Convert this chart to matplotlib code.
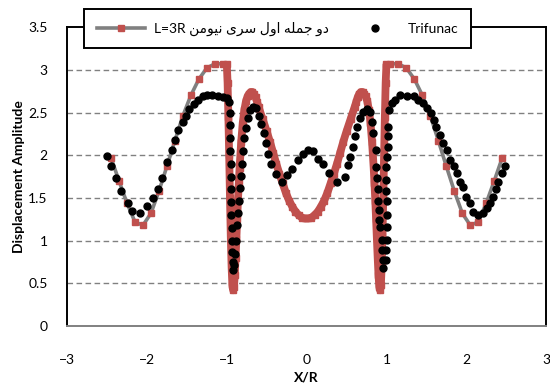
import matplotlib
matplotlib.use('Agg')
import matplotlib.pyplot as plt
import numpy as np

# font setup (Calibri-like look)
plt.rcParams['font.family'] = ['Lato', 'DejaVu Sans']
plt.rcParams['font.size'] = 10

# Neumann series (first two terms), L=3R
x_neu = [-2.45, -2.35, -2.25, -2.15, -2.05, -1.95, -1.85, -1.75, -1.65, -1.55,
         -1.45, -1.35, -1.25, -1.15, -1.05,
         -1.00, -0.99, -0.98, -0.97, -0.96, -0.95, -0.94, -0.93, -0.92, -0.91,
         -0.90, -0.89, -0.88, -0.87, -0.86, -0.85, -0.84, -0.82, -0.80, -0.78,
         -0.76, -0.74, -0.72, -0.70, -0.68, -0.66, -0.64, -0.62, -0.60, -0.55,
         -0.50, -0.46, -0.42, -0.38, -0.34, -0.30, -0.26, -0.22, -0.18, -0.14,
         -0.10, -0.06, -0.02,
         0.02, 0.06, 0.10, 0.14, 0.18, 0.22, 0.26, 0.30, 0.34, 0.38,
         0.42, 0.46, 0.50, 0.55, 0.60, 0.62, 0.64, 0.66, 0.68, 0.70,
         0.72, 0.74, 0.76, 0.78, 0.80, 0.82, 0.84, 0.85, 0.86, 0.87,
         0.88, 0.89, 0.90, 0.91, 0.92, 0.93, 0.94, 0.95, 0.96, 0.97,
         0.98, 0.99, 1.00,
         1.05, 1.15, 1.25, 1.35, 1.45, 1.55, 1.65, 1.75, 1.85, 1.95,
         2.05, 2.15, 2.25, 2.35, 2.45]
y_neu = [1.97, 1.70, 1.44, 1.22, 1.18, 1.32, 1.58, 1.87, 2.17, 2.46,
         2.70, 2.89, 3.02, 3.07, 3.07,
         3.07, 2.85, 2.45, 2.00, 1.50, 1.05, 0.70, 0.48, 0.42, 0.46,
         0.60, 0.80, 1.02, 1.25, 1.47, 1.67, 1.85, 2.15, 2.38, 2.53,
         2.63, 2.69, 2.72, 2.74, 2.74, 2.72, 2.68, 2.62, 2.56, 2.42,
         2.28, 2.16, 2.03, 1.90, 1.78, 1.67, 1.56, 1.47, 1.40, 1.34,
         1.30, 1.27, 1.26,
         1.26, 1.27, 1.30, 1.34, 1.40, 1.47, 1.56, 1.67, 1.78, 1.90,
         2.03, 2.16, 2.28, 2.42, 2.56, 2.62, 2.68, 2.72, 2.74, 2.74,
         2.72, 2.69, 2.63, 2.53, 2.38, 2.15, 1.85, 1.67, 1.47, 1.25,
         1.02, 0.80, 0.60, 0.46, 0.42, 0.48, 0.70, 1.05, 1.50, 2.00,
         2.45, 2.85, 3.07,
         3.07, 3.07, 3.02, 2.89, 2.70, 2.46, 2.17, 1.87, 1.58, 1.32,
         1.18, 1.22, 1.44, 1.70, 1.97]

# Trifunac solution
x_tri = [-2.50, -2.45, -2.39, -2.32, -2.24, -2.19, -2.09, -2.00, -1.93, -1.86,
         -1.81, -1.75, -1.69, -1.65, -1.61, -1.55, -1.51, -1.47, -1.41, -1.36,
         -1.30, -1.25, -1.18, -1.11, -1.05, -1.00,
         -0.970, -0.965, -0.960, -0.958, -0.955, -0.953, -0.950, -0.948, -0.945, -0.943,
         -0.940, -0.937, -0.933, -0.928, -0.920,
         -0.905, -0.895, -0.885, -0.870, -0.860, -0.850, -0.835, -0.820, -0.810, -0.800,
         -0.780, -0.760, -0.740, -0.710, -0.670, -0.630, -0.600, -0.570, -0.540, -0.510,
         -0.480, -0.440, -0.380, -0.310, -0.248, -0.185, -0.102, -0.040,
         0.023, 0.085, 0.148, 0.210, 0.285, 0.378, 0.480, 0.520, 0.545, 0.580,
         0.607, 0.636, 0.670, 0.710, 0.760, 0.796, 0.817, 0.837, 0.867, 0.871,
         0.880, 0.892, 0.900, 0.902, 0.909, 0.920, 0.940, 0.942, 0.954, 0.960,
         0.995, 0.996, 1.004, 1.005, 1.004, 1.003, 1.000, 0.998, 1.000, 1.010,
         1.020, 1.022, 1.024, 1.037, 1.067, 1.108, 1.170, 1.255, 1.340, 1.400,
         1.456, 1.506, 1.556, 1.590, 1.620, 1.665, 1.706, 1.756, 1.800, 1.840,
         1.880, 1.920, 1.956, 1.998, 2.050, 2.090, 2.150, 2.215, 2.265, 2.300,
         2.340, 2.375, 2.400, 2.445, 2.490]
y_tri = [1.99, 1.87, 1.73, 1.58, 1.44, 1.35, 1.32, 1.41, 1.50, 1.61,
         1.73, 1.92, 2.06, 2.18, 2.29, 2.39, 2.46, 2.54, 2.60, 2.65,
         2.69, 2.71, 2.70, 2.69, 2.68, 2.67,
         2.62, 2.50, 2.35, 2.20, 2.05, 1.90, 1.75, 1.60, 1.45, 1.30,
         1.15, 1.00, 0.87, 0.75, 0.66,
         0.72, 0.85, 1.00, 1.18, 1.32, 1.47, 1.62, 1.76, 1.90, 2.05,
         2.20, 2.32, 2.44, 2.53, 2.57, 2.55, 2.46, 2.36, 2.26, 2.14,
         2.02, 1.90, 1.78, 1.69, 1.77, 1.84, 1.94, 2.02,
         2.06, 2.05, 1.96, 1.90, 1.79, 1.69, 1.75, 1.88, 1.98, 2.10,
         2.22, 2.33, 2.43, 2.51, 2.54, 2.51, 2.39, 2.26, 2.06, 1.86,
         1.73, 1.61, 1.47, 1.36, 1.24, 1.16, 1.01, 0.89, 0.77, 0.68,
         0.77, 0.89, 1.01, 1.16, 1.30, 1.47, 1.58, 1.71, 1.86, 1.98,
         2.10, 2.22, 2.33, 2.53, 2.61, 2.65, 2.70, 2.69, 2.69, 2.65,
         2.61, 2.55, 2.49, 2.41, 2.33, 2.24, 2.14, 2.06, 1.94, 1.87,
         1.79, 1.69, 1.63, 1.51, 1.44, 1.34, 1.30, 1.32, 1.38, 1.44,
         1.51, 1.61, 1.69, 1.79, 1.87]

label_neu = '\uFEE6\uFEE3\uFEEE\uFBFF\uFEE7 \uFBFC\uFEAE\uFEB3 \uFEDD\uFEED\uFE8D \uFEEA\uFEE0\uFEE4\uFE9F \uFEED\uFEA9'
label_neu = 'L=3R ' + label_neu

RED = '#C0504D'
GRAY = '#808080'

fig = plt.figure(figsize=(5.5, 3.92), dpi=100)
ax = fig.add_axes([0.122, 0.168, 0.871, 0.763])

xn = np.array(x_neu)
yn = np.array(y_neu)
inner = np.abs(xn) <= 1.0

# gray connecting line with red square markers
ax.plot(xn, yn, color=GRAY, lw=2.6, zorder=2)
# densely sampled central part appears as a solid red band
ax.plot(xn[inner], yn[inner], color=RED, lw=5.6, solid_capstyle='butt',
        solid_joinstyle='round', zorder=3)
ax.plot(xn, yn, ls='none', marker='s', ms=4.6, color=RED, mec=RED, zorder=3)
# legend proxy
h1, = ax.plot([], [], color=GRAY, lw=2.6, marker='s', ms=4.6, mfc=RED, mec=RED)

h2, = ax.plot(x_tri, y_tri, ls='none', marker='o', ms=5.0, color='black', zorder=4)

ax.set_xlim(-3, 3)
ax.set_ylim(0, 3.5)
ax.set_xticks(np.arange(-3, 4, 1))
ax.set_yticks(np.arange(0, 3.6, 0.5))
ax.set_yticklabels(['0', '0.5', '1', '1.5', '2', '2.5', '3', '3.5'])
ax.tick_params(axis='both', length=0, labelsize=10)
ax.tick_params(axis='y', pad=14)
ax.tick_params(axis='x', pad=20)

for y in [0.5, 1.0, 1.5, 2.0, 2.5, 3.0]:
    ax.axhline(y, color=GRAY, lw=1.0, ls=(0, (4, 2.5)), zorder=1)

for s in ['left', 'top', 'right']:
    ax.spines[s].set_color('black')
    ax.spines[s].set_linewidth(1.4)
ax.spines['bottom'].set_color(GRAY)
ax.spines['bottom'].set_linewidth(1.4)

ax.set_xlabel('X/R', fontweight='bold', fontsize=10, labelpad=4)
ax.set_ylabel('Displacement Amplitude', fontweight='bold', fontsize=10, labelpad=2)

leg = ax.legend([h1, h2], [label_neu, 'Trifunac'], ncol=2, loc='upper center',
                bbox_to_anchor=(0.5045, 0.977), bbox_transform=fig.transFigure,
                frameon=True, fancybox=False, framealpha=1, edgecolor='black',
                columnspacing=1.6, handlelength=3.5, handletextpad=0.6,
                borderpad=0.9, borderaxespad=0,
                prop={'family': ['Lato', 'DejaVu Sans'], 'size': 10})
leg.get_frame().set_linewidth(1.4)
leg.set_zorder(10)

fig.savefig('out.png', dpi=100)
